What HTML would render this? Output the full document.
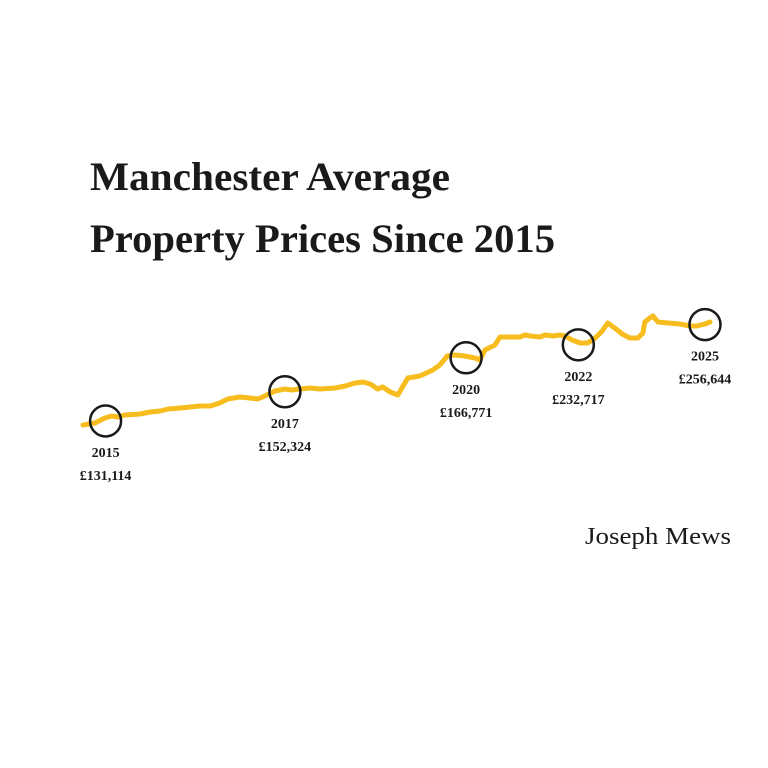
<!DOCTYPE html>
<html><head><meta charset="utf-8"><style>
html,body{margin:0;padding:0;background:#fff;}
svg{display:block;}
text{font-family:"Liberation Serif",serif;fill:#1a1a1a;}
</style></head><body>
<svg id="chart" width="768" height="768" viewBox="0 0 768 768" xmlns="http://www.w3.org/2000/svg">
<text x="90" y="190" font-size="40" font-weight="bold" textLength="360" lengthAdjust="spacingAndGlyphs">Manchester Average</text>
<text x="90" y="252" font-size="40" font-weight="bold" textLength="465" lengthAdjust="spacingAndGlyphs">Property Prices Since 2015</text>
<text x="585" y="544" font-size="24" textLength="146" lengthAdjust="spacingAndGlyphs">Joseph Mews</text>
<g id="series"></g>
<g id="marks"></g>
</svg>
<script>
const periods=[0,1.9,3.5,4.6,5.6,6.7,9.1,10.7,12.3,13.6,15.5,17.1,18.7,20.3,21.8,23.1,25.0,26.6,27.9,29.0,30.6,32.2,33.3,34.6,36.2,37.8,40.2,41.8,43.4,44.7,45.8,47.0,47.8,49.0,50.2,51.8,53.7,55.8,56.9,58.1,59.3,60.9,62.5,63.3,64.1,65.7,66.5,68.1,69.7,70.5,71.3,72.9,73.7,75.0,76.1,76.9,78.0,79.3,80.5,81.7,82.8,83.7,84.8,86.0,87.2,88.5,89.3,89.6,90.4,90.9,91.7,93.3,95.2,96.8,97.9,99.2,100];
const prices=[130,132.5,138.6,141.1,139.9,142.4,143.6,146.1,147.3,149.8,151,152.2,153.5,153.5,157.2,162.1,164.6,163.3,162.1,165.8,172,174.5,173.2,174.5,175.7,174.5,175.7,178.2,181.9,183.1,180.6,174.5,176.9,170.8,167,188,190.5,197.9,204.1,215.2,216.5,215.2,212.7,210.3,222.6,228.8,238.7,238.7,238.7,241.2,239.9,238.7,241.2,239.9,241.2,239.9,235,231.3,231.3,237.4,246.1,256,249.8,242.4,237.4,237.4,243.6,257.2,262.1,264.6,257.2,256,254.7,252.3,252.3,254.7,257.2];
const markYears=["2015","2017","2020","2022","2025"];
const markLabels=["£131,114","£152,324","£166,771","£232,717","£256,644"];
const markPeriods=[3.6,32.2,61.1,79,99.2];
const markPrices=[135,171,213,229,254];
const labelBelow=[true,true,true,true,true];

const NS="http://www.w3.org/2000/svg";
function xScale(t){return 83+t*6.27;}
function yScale(v){return 425-(v-130)/1.235;}

const g=document.getElementById('series');
let d=periods.map((t,i)=>(i?'L':'M')+xScale(t).toFixed(1)+','+yScale(prices[i]).toFixed(1)).join(' ');
const path=document.createElementNS(NS,'path');


path.setAttribute('d',d);
path.setAttribute('fill','none');
path.setAttribute('stroke','#f7bd1e');
path.setAttribute('stroke-width','5');
path.setAttribute('stroke-linejoin','round');
path.setAttribute('stroke-linecap','round');
g.appendChild(path);

const m=document.getElementById('marks');
markPeriods.forEach((t,i)=>{
  const cx=xScale(t), cy=yScale(markPrices[i]);
  const c=document.createElementNS(NS,'circle');
  
  
  c.setAttribute('cx',cx);c.setAttribute('cy',cy);c.setAttribute('r',15.5);
  c.setAttribute('fill','none');c.setAttribute('stroke','#1a1a1a');c.setAttribute('stroke-width','2.5');
  m.appendChild(c);
  const ty=document.createElementNS(NS,'text');
  
  
  ty.setAttribute('x',cx);ty.setAttribute('y',cy+36);
  ty.setAttribute('text-anchor','middle');ty.setAttribute('font-size','14');ty.setAttribute('font-weight','bold');
  ty.textContent=markYears[i];
  m.appendChild(ty);
  const tv=document.createElementNS(NS,'text');
  
  
  tv.setAttribute('x',cx);tv.setAttribute('y',cy+59);
  tv.setAttribute('text-anchor','middle');tv.setAttribute('font-size','14');tv.setAttribute('font-weight','bold');
  tv.textContent=markLabels[i];
  m.appendChild(tv);
});
</script>
</body></html>
